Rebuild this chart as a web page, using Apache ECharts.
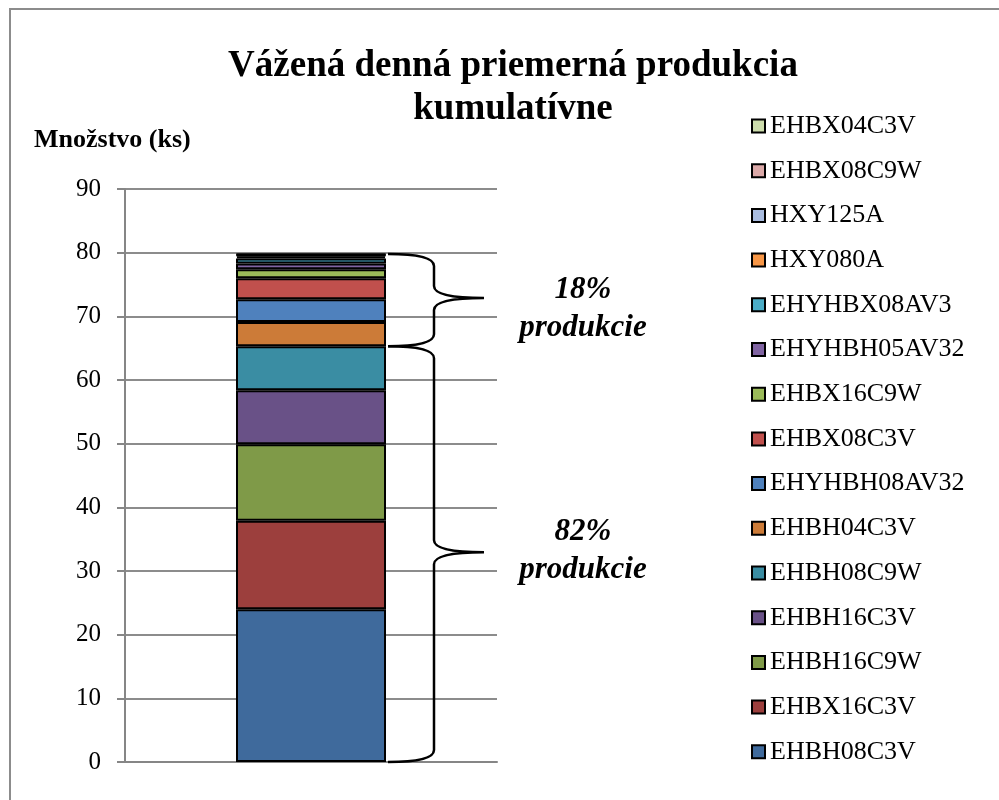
<!DOCTYPE html>
<html>
<head>
<meta charset="utf-8">
<script src="https://cdn.jsdelivr.net/npm/echarts@6/dist/echarts.min.js"></script>
<style>
html,body{margin:0;padding:0;background:#fff;}
#chart{width:999px;height:800px;}
</style>
</head>
<body>
<div id="chart"></div>
<script>
var categories = [''];
var seriesNames = ['EHBH08C3V','EHBX16C3V','EHBH16C9W','EHBH16C3V','EHBH08C9W','EHBH04C3V',
	'EHYHBH08AV32','EHBX08C3V','EHBX16C9W','EHYHBH05AV32','EHYHBX08AV3','HXY080A',
	'HXY125A','EHBX08C9W','EHBX04C3V'];
var seriesValues = [24, 13.9, 12, 8.5, 6.9, 3.8, 3.6, 3.3, 1.4, 0.9, 0.8, 0.3, 0.2, 0.1, 0.1];
var seriesColors = ['#3F6A9C','#9C3F3D','#7F9A48','#695187','#3A8DA3','#CC7B38',
	'#4F81BD','#C0504D','#9BBB59','#8064A2','#4BACC6','#F79646',
	'#A9BCE0','#DBA9A8','#CDDDAC'];
var yTicks = [0,10,20,30,40,50,60,70,80,90];
// the first 5 series make up the 82% group
var groupSplit = 5;

var serif = '"Liberation Serif", "DejaVu Serif", serif';

var total = 0, lower = 0;
var $each = function(arr, fn){ for (var i = 0; i < arr.length; i++) fn(i, arr[i]); };
$each(seriesValues, function(i, v){ total += v; if (i < groupSplit) lower += v; });
var braces = [
	[0, lower, Math.round(lower / total * 100) + '%', -1],
	[lower, total, Math.round((total - lower) / total * 100) + '%', 11]
];

var series = [];
$each(seriesNames, function(i, name){
	series.push({
		name: name,
		type: 'bar',
		stack: 'total',
		barWidth: 150,
		data: [seriesValues[i]],
		itemStyle: {color: seriesColors[i], borderColor: '#000', borderWidth: 2},
		emphasis: {disabled: true}
	});
});

series.push({
	type: 'custom',
	silent: true,
	z: 10,
	data: braces,
	renderItem: function(params, api){
		var p0 = api.coord([0, api.value(0)]);
		var p1 = api.coord([0, api.value(1)]);
		var x0 = p0[0] + 77, xm = x0 + 46, x1 = x0 + 96;
		var yB = p0[1], yT = p1[1], ym = (yB + yT) / 2 - 2, r = 12;
		var d = 'M' + x0 + ' ' + yT + ' Q' + xm + ' ' + yT + ' ' + xm + ' ' + (yT + r) +
			' L' + xm + ' ' + (ym - r) + ' Q' + xm + ' ' + ym + ' ' + x1 + ' ' + ym +
			' Q' + xm + ' ' + ym + ' ' + xm + ' ' + (ym + r) +
			' L' + xm + ' ' + (yB - r) + ' Q' + xm + ' ' + yB + ' ' + x0 + ' ' + yB;
		var cx = x1 + 99;
		return {
			type: 'group',
			children: [{
				type: 'path',
				shape: {pathData: d},
				style: {fill: null, stroke: '#000', lineWidth: 2.5}
			}, {
				type: 'text',
				x: cx, y: ym + api.value(3),
				style: {
					text: api.value(2) + '\nprodukcie',
					fill: '#000',
					font: 'italic bold 31px ' + serif,
					lineHeight: 38,
					align: 'center',
					verticalAlign: 'middle'
				}
			}]
		};
	}
});

var legendData = seriesNames.slice().reverse();

var myChart = echarts.init(document.getElementById('chart'));
var option = {
	backgroundColor: '#fff',
	animation: false,
	title: {
		text: 'Vážená denná priemerná produkcia\nkumulatívne',
		left: 508,
		top: 40,
		textAlign: 'center',
		textStyle: {fontFamily: serif, fontSize: 37, fontWeight: 'bold', color: '#000', lineHeight: 43}
	},
	legend: {
		orient: 'vertical',
		left: 746,
		top: 106,
		data: legendData,
		itemWidth: 13,
		itemHeight: 13,
		itemGap: 14.7,
		icon: 'rect',
		selectedMode: false,
		textStyle: {fontFamily: serif, fontSize: 26, color: '#000', lineHeight: 30}
	},
	graphic: [{
		type: 'rect',
		shape: {x: 10, y: 9, width: 1000, height: 1000},
		style: {fill: null, stroke: '#8c8c8c', lineWidth: 2},
		silent: true
	}, {
		type: 'text',
		left: 34,
		top: 127,
		style: {text: 'Množstvo (ks)', font: 'bold 26px ' + serif, fill: '#000'}
	}],
	grid: {left: 125, right: 502, top: 189, bottom: 38},
	xAxis: {
		type: 'category',
		data: categories,
		axisLine: {lineStyle: {color: '#868686', width: 2}},
		axisTick: {show: false},
		axisLabel: {show: false}
	},
	yAxis: {
		type: 'value',
		min: yTicks[0],
		max: yTicks[yTicks.length - 1],
		interval: 10,
		axisLine: {show: true, lineStyle: {color: '#868686', width: 2}},
		axisTick: {show: true, length: 8, lineStyle: {color: '#868686', width: 2}},
		axisLabel: {fontFamily: serif, fontSize: 25, color: '#000', margin: 24},
		splitLine: {lineStyle: {color: '#8c8c8c', width: 2}}
	},
	series: series
};
myChart.setOption(option);
window.onresize = function(){
	myChart.resize();
};
</script>
</body>
</html>
